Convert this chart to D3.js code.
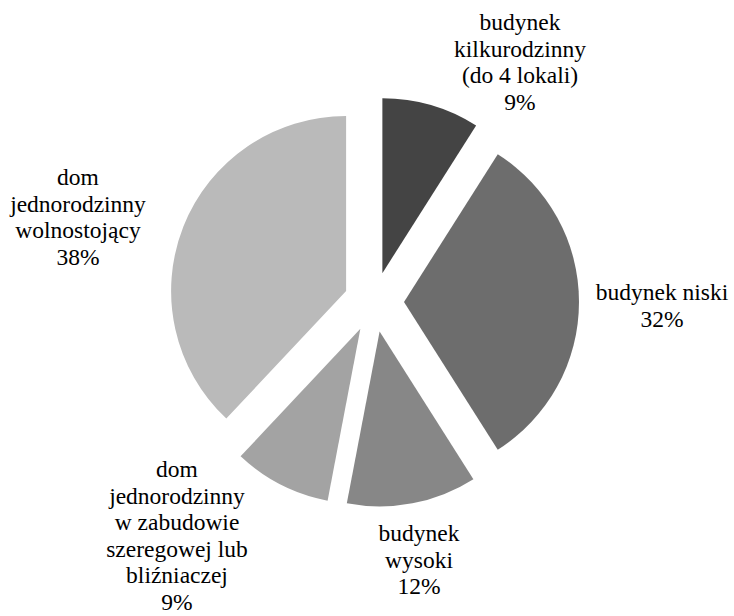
<!DOCTYPE html>
<html>
<head>
<meta charset="utf-8">
<script src="https://cdn.jsdelivr.net/npm/d3@7"></script>
<style>
  html, body { margin: 0; padding: 0; background: #fff; }
  svg { display: block; }
</style>
</head>
<body>
<svg id="chart" width="734" height="616"></svg>
<script>
// Building types and their shares (%)
const categories = [
  "budynek kilkurodzinny (do 4 lokali)",
  "budynek niski",
  "budynek wysoki",
  "dom jednorodzinny w zabudowie szeregowej lub bliźniaczej",
  "dom jednorodzinny wolnostojący"
];
const shares = [9, 32, 12, 9, 38];
// Label text broken into lines
const labelLines = [
  ["budynek", "kilkurodzinny", "(do 4 lokali)"],
  ["budynek niski"],
  ["budynek", "wysoki"],
  ["dom", "jednorodzinny", "w zabudowie", "szeregowej lub", "bliźniaczej"],
  ["dom", "jednorodzinny", "wolnostojący"]
];

// Layout
const width = 734, height = 616;
const cx = 374, cy = 302;
const radius = 175;
const explode = 30;
const fills = ["#444444", "#6d6d6d", "#878787", "#a3a3a3", "#bababa"];
// Centre of each label block, and baseline of its first line
const labelAnchors = [
  { x: 520, y: 30 },
  { x: 662, y: 300 },
  { x: 419, y: 541 },
  { x: 177, y: 477 },
  { x: 78,  y: 185 }
];
const lineStep = 26.6;
const fontSize = 23.5;
const fontFamily = "'Times New Roman', 'Liberation Serif', 'DejaVu Serif', serif";

const data = categories.map((c, i) => ({ category: c, value: shares[i], lines: labelLines[i], index: i }));

const svg = d3.select("#chart");
const pie = d3.pie().value(d => d.value).sort(null).startAngle(0).endAngle(2 * Math.PI);
const arc = d3.arc().innerRadius(0).outerRadius(radius);
const arcs = pie(data);

const g = svg.append("g").attr("transform", `translate(${cx},${cy})`);

g.selectAll("path.slice")
  .data(arcs)
  .join("path")
  .attr("class", "slice")
  .attr("d", arc)
  .attr("fill", (d, i) => fills[i])
  .attr("transform", d => {
    const mid = (d.startAngle + d.endAngle) / 2;
    return `translate(${explode * Math.sin(mid)},${-explode * Math.cos(mid)})`;
  });

// Category labels with percentage on the last line
const labels = svg.selectAll("text.label")
  .data(arcs)
  .join("text")
  .attr("class", "label")
  .attr("text-anchor", "middle")
  .attr("font-family", fontFamily)
  .attr("font-size", fontSize)
  .attr("fill", "#000");

labels.each(function (d, i) {
  const t = d3.select(this);
  const a = labelAnchors[i];
  const lines = d.data.lines.concat([d.data.value + "%"]);
  lines.forEach((line, k) => {
    t.append("tspan")
      .attr("x", a.x)
      .attr("y", a.y + k * lineStep)
      .text(line);
  });
});
</script>
</body>
</html>
